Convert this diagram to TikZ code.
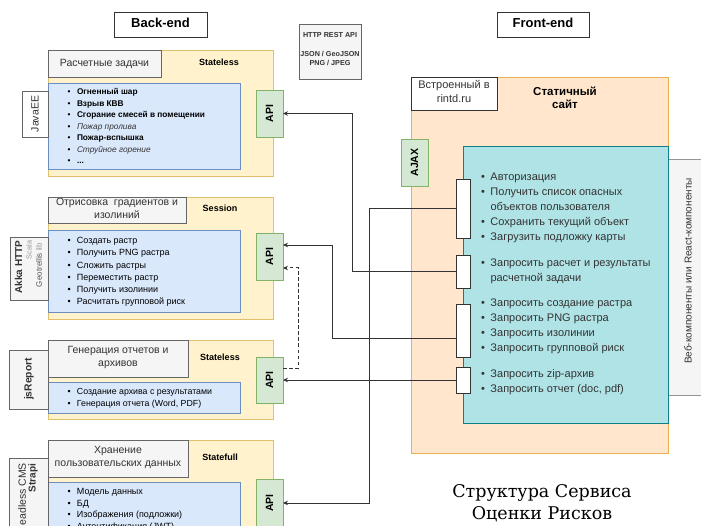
\documentclass[tikz,border=0pt]{standalone}
\usepackage{fontspec}
\setmainfont{Liberation Sans}
\newfontfamily\titlefont{DejaVu Serif}
\usetikzlibrary{arrows.meta}
\definecolor{ylfill}{HTML}{FFF2CC}\definecolor{yldraw}{HTML}{E0C068}
\definecolor{blfill}{HTML}{DAE8FC}\definecolor{bldraw}{HTML}{6C8EBF}
\definecolor{grfill}{HTML}{D5E8D4}\definecolor{grdraw}{HTML}{82B366}
\definecolor{gyfill}{HTML}{F5F5F5}\definecolor{gydraw}{HTML}{666666}
\definecolor{orfill}{HTML}{FFE6CC}\definecolor{ordraw}{HTML}{E8B050}
\definecolor{tlfill}{HTML}{B0E3E6}\definecolor{tldraw}{HTML}{0E8088}
\definecolor{txtdark}{HTML}{333333}
\definecolor{txtmid}{HTML}{555555}
\definecolor{txtlight}{HTML}{999999}
\newcommand\bi{\makebox[9.5pt][l]{•}}
\newcommand\ci{\hspace*{9.5pt}}
\newcommand\myfs[2]{\fontsize{#1}{#2}\selectfont}
\begin{document}
\begin{tikzpicture}[x=1pt,y=-1pt,
  box/.style={line width=0.75pt, inner sep=0pt, outer sep=0pt, anchor=north west},
  ybox/.style={box, fill=ylfill, draw=yldraw, minimum width=225pt},
  bbox/.style={box, fill=blfill, draw=bldraw, minimum width=192pt},
  gbox/.style={box, fill=gyfill, draw=gydraw},
  apibox/.style={box, fill=grfill, draw=grdraw, minimum width=27pt, minimum height=47pt},
  wbox/.style={box, fill=white, draw=txtdark},
  port/.style={box, fill=white, draw=txtdark, minimum width=14pt},
  lbl/.style={inner sep=0pt, outer sep=0pt, anchor=mid west, align=left},
  ctr/.style={inner sep=0pt, outer sep=0pt, anchor=mid, align=center},
  rot/.style={inner sep=0pt, outer sep=0pt, anchor=center, rotate=90},
  apitxt/.style={rot, font=\bfseries\myfs{10.5}{12}},
  state/.style={ctr, font=\bfseries\myfs{9}{11}},
  ttl/.style={ctr, text=txtdark, font=\myfs{10.5}{13}},
  conn/.style={draw=txtdark, line width=0.75pt, -{Stealth[length=5pt,width=4.5pt]}},
  dconn/.style={conn, line width=1pt, dash pattern=on 3.5pt off 2.5pt}
]
\useasboundingbox (0,0) rectangle (701,526);
\clip (0,0) rectangle (701,526);

% headers (multi-line nodes are placed by their LAST line)
\node[wbox, minimum width=93pt, minimum height=25pt] (be) at (114,12) {};
\node[ctr, font=\bfseries\myfs{13}{15}] (bet) at (160.5,24.5) {Back-end};
\node[wbox, minimum width=92pt, minimum height=25pt] (fe) at (497,12) {};
\node[ctr, font=\bfseries\myfs{13}{15}] (fet) at (543,24.5) {Front-end};
\node[gbox, minimum width=62pt, minimum height=55pt] (http) at (299,24) {};
\node[ctr, font=\bfseries\myfs{7.2}{9}, text=txtdark] (httpt) at (330,63) {HTTP REST API\\[10pt]JSON / GeoJSON\\PNG / JPEG};

% ---------- block 1
\node[ybox, minimum height=126pt] (y1) at (48,50) {};
\node[bbox, minimum height=86pt] (b1) at (48,83) {};
\node[gbox, minimum width=113pt, minimum height=27pt] (t1) at (48,50) {};
\node[ttl] (t1t) at (104.5,63.5) {Расчетные задачи};
\node[state] (s1) at (219,63) {Stateless};
\node[gbox, fill=white, minimum width=26pt, minimum height=46pt] (l1) at (22,91) {};
\node[rot, text=txtdark, font=\myfs{10.5}{12}] (l1t) at (35,114) {JavaEE};
\node[apibox] (a1) at (256,90) {};
\node[apitxt] (a1t) at (a1.center) {API};
\node[lbl, font=\myfs{8.3}{11.5}] (b1t) at (67.5,161) {\bi\textbf{Огненный шар}\\ \bi\textbf{Взрыв КВВ}\\ \bi\textbf{Сгорание смесей в помещении}\\ \bi\textcolor{txtdark}{\textit{Пожар пролива}}\\ \bi\textbf{Пожар-вспышка}\\ \bi\textcolor{txtdark}{\textit{Струйное горение}}\\ \bi\textbf{...}};

% ---------- block 2
\node[ybox, minimum height=122pt] (y2) at (48,197) {};
\node[bbox, minimum height=82pt] (b2) at (48,230) {};
\node[gbox, minimum width=138pt, minimum height=26pt] (t2) at (48,197) {};
\node[ttl] (t2t) at (117,216) {Отрисовка\ \ градиентов и\\изолиний};
\node[state] (s2) at (220,209) {Session};
\node[gbox, minimum width=38pt, minimum height=63pt] (l2) at (10,237) {};
\node[rot, font=\bfseries\myfs{10}{12}, text=txtdark] (l2a) at (18.5,267) {Akka HTTP};
\node[rot, font=\myfs{7.3}{9}, text=txtlight] (l2b) at (29,250) {Scala};
\node[rot, font=\myfs{8}{9}, text=txtmid] (l2c) at (39,265) {Geotrellis \textcolor{txtlight}{lib}};
\node[apibox] (a2) at (256,233) {};
\node[apitxt] (a2t) at (a2.center) {API};
\node[lbl, font=\myfs{9}{12.2}] (b2t) at (67.5,302) {\bi Создать растр\\ \bi Получить PNG растра\\ \bi Сложить растры\\ \bi Переместить растр\\ \bi Получить изолинии\\ \bi Расчитать групповой риск};

% ---------- block 3
\node[ybox, minimum height=79pt] (y3) at (48,340) {};
\node[bbox, minimum height=31pt] (b3) at (48,382) {};
\node[gbox, minimum width=140pt, minimum height=37pt] (t3) at (48,340) {};
\node[ttl] (t3t) at (118,364) {Генерация отчетов и\\архивов};
\node[state] (s3) at (220,358) {Stateless};
\node[gbox, minimum width=39pt, minimum height=59pt] (l3) at (9,350) {};
\node[rot, font=\bfseries\myfs{10.3}{12}, text=txtdark] (l3t) at (29,379) {jsReport};
\node[apibox, minimum height=46pt] (a3) at (256,357) {};
\node[apitxt] (a3t) at (a3.center) {API};
\node[lbl, font=\myfs{8.8}{11.5}] (b3t) at (67.5,403.5) {\bi Создание архива с результатами\\ \bi Генерация отчета (Word, PDF)};

% ---------- block 4
\node[ybox, minimum height=120pt] (y4) at (48,440) {};
\node[bbox, minimum height=80pt] (b4) at (48,482) {};
\node[gbox, minimum width=140pt, minimum height=37pt] (t4) at (48,440) {};
\node[ttl] (t4t) at (118,464) {Хранение\\пользовательских данных};
\node[state] (s4) at (220,458) {Statefull};
\node[gbox, minimum width=39pt, minimum height=100pt] (l4) at (9,458) {};
\node[rot, font=\myfs{10.5}{12}, text=txtdark] (l4a) at (22,498) {Headless CMS};
\node[rot, font=\bfseries\myfs{10}{12}, text=txtdark] (l4b) at (33,478) {Strapi};
\node[apibox, minimum height=48pt] (a4) at (256,479) {};
\node[apitxt] (a4t) at (a4.center) {API};
\node[lbl, font=\myfs{9}{11.5}] (b4t) at (67.5,526.5) {\bi Модель данных\\ \bi БД\\ \bi Изображения (подложки)\\ \bi Аутентификация (JWT)};

% ---------- front-end
\node[box, fill=orfill, draw=ordraw, minimum width=257pt, minimum height=376pt] (or) at (411,77) {};
\node[wbox, minimum width=86pt, minimum height=33pt] (emb) at (411,77) {};
\node[ctr, font=\myfs{11}{14}, text=txtdark] (embt) at (454,100) {Встроенный в\\rintd.ru};
\node[ctr, font=\bfseries\myfs{11.5}{13}] (sst) at (565,106) {Статичный\\сайт};
\node[gbox, draw=gydraw!70, minimum width=50pt, minimum height=236pt] (side) at (668,159) {};
\node[rot, font=\myfs{10}{12}, text=txtdark] (sidet) at (688,271) {Веб-компоненты или React-компоненты};
\node[box, fill=tlfill, draw=tldraw, minimum width=205pt, minimum height=277pt] (tl) at (463,146) {};
\node[apibox] (aj) at (401,139) {};
\node[apitxt] (ajt) at (aj.center) {AJAX};
\node[port, minimum height=59pt] (p1) at (456,179) {};
\node[port, minimum height=33pt] (p2) at (456,255) {};
\node[port, minimum height=53pt] (p3) at (456,304) {};
\node[port, minimum height=26pt] (p4) at (456,367) {};
\node[lbl, font=\myfs{11}{15}, text=txtdark] (tlt) at (481,390) {\bi Авторизация\\ \bi Получить список опасных\\ \ci объектов пользователя\\ \bi Сохранить текущий объект\\ \bi Загрузить подложку карты\\[11pt] \bi Запросить расчет и результаты\\ \ci расчетной задачи\\[10pt] \bi Запросить создание растра\\ \bi Запросить PNG растра\\ \bi Запросить изолинии\\ \bi Запросить групповой риск\\[11pt] \bi Запросить zip-архив\\ \bi Запросить отчет (doc, pdf)};

% ---------- connectors
\coordinate (v1) at (369,0);
\coordinate (v2) at (352,0);
\coordinate (v3) at (332,0);
\coordinate (v4) at (298,0);
\coordinate (a2in) at ([yshift=11.5pt]a2.east);
\coordinate (a2d) at ([yshift=-11.5pt]a2.east);
\coordinate (p3o) at ([yshift=-7.5pt]p3.west);
\coordinate (a3o) at ([yshift=12pt]a3.east);
\draw[conn] (p1.west) -| (v1 |- a4.east) -- (a4.east);
\draw[conn] (p2.west) -| (v2 |- a1.east) -- (a1.east);
\draw[conn] (p3o) -| (v3 |- a2in) -- (a2in);
\draw[conn] (p4.west) -- (a3.east);
\draw[dconn] (a3o) -| (v4 |- a2d) -- (a2d);

% ---------- title
\node[ctr, font=\titlefont\myfs{17.5}{22}] (title) at (542,517) {Структура Сервиса\\Оценки Рисков};
\end{tikzpicture}
\end{document}
